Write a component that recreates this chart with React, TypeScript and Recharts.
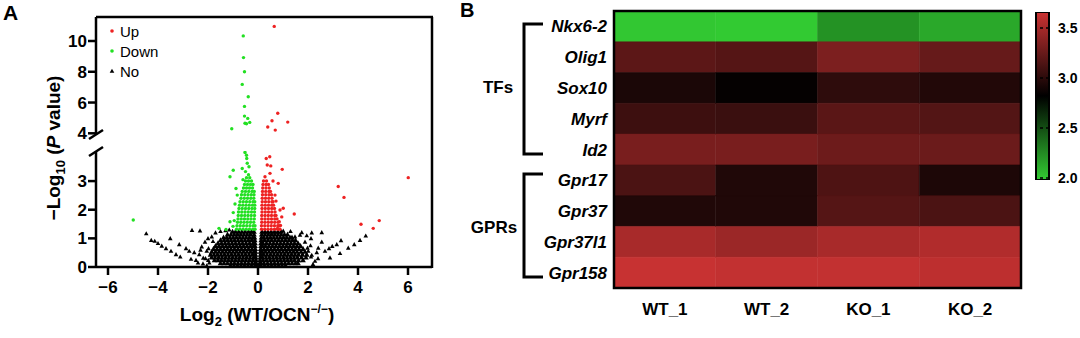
import React from 'react'
import { ScatterChart, Scatter, XAxis, YAxis, BarChart, Bar, Cell, ReferenceLine, Legend } from 'recharts'

const FONT = '"Liberation Sans", Arial, Helvetica, sans-serif'
const RED = '#ee2222'
const GREEN = '#22e022'

// ---- panel A: volcano plot ----
const xTicks = [-6, -4, -2, 0, 2, 4, 6]
const yTicksHigh = [4, 6, 8, 10]
const yTicksLow = [0, 1, 2, 3]

// points above the axis break
const upHigh: Array<[number, number]> = [
  [0.65, 10.95], [0.79, 5.3], [0.56, 4.82], [1.19, 4.73], [0.39, 4.41], [0.69, 4.21],
]
const downHigh: Array<[number, number]> = [
  [-0.59, 10.33], [-0.58, 8.92], [-0.54, 8.0], [-0.63, 7.18], [-0.39, 6.38], [-0.54, 5.75],
  [-0.54, 5.12], [-0.41, 4.97], [-0.52, 4.65], [-0.33, 4.71], [-1.05, 4.3], [-0.46, 4.62],
]

// scattered points below the break
const upLow: Array<[number, number]> = [
  [0.33, 3.79], [0.47, 3.85], [0.37, 3.56], [0.51, 3.53], [0.97, 3.41], [0.28, 3.15], [0.48, 3.27],
  [0.81, 2.92], [0.68, 2.51], [1.01, 2.05], [1.45, 1.85], [0.88, 1.99], [0.95, 1.75], [0.85, 1.58],
  [0.6, 3.0], [0.72, 2.3], [0.9, 1.45], [0.78, 1.35], [6.01, 3.12], [3.21, 2.81], [3.44, 2.43],
  [4.12, 1.49], [4.61, 1.35], [4.85, 1.62],
]
const downLow: Array<[number, number]> = [
  [-0.52, 4.0], [-0.46, 3.9], [-0.45, 3.79], [-0.43, 3.62], [-0.63, 3.44], [-0.99, 3.38], [-0.5, 3.33],
  [-0.38, 3.22], [-1.12, 3.15], [-0.6, 3.05], [-0.36, 3.5], [-0.88, 2.74], [-0.83, 2.51], [-0.92, 2.2],
  [-0.99, 1.9], [-1.12, 1.58], [-0.95, 1.62], [-1.0, 1.42], [-1.28, 1.31], [-1.56, 1.35], [-4.99, 1.64],
]

// dense clusters, one row of x positions per y level
const upCore: Array<[number, number[]]> = [
  [1.32, [0.14, 0.27, 0.4, 0.53, 0.66, 0.79, 0.88]],
  [1.44, [0.14, 0.27, 0.4, 0.53, 0.66, 0.79, 0.84]],
  [1.56, [0.15, 0.28, 0.41, 0.54, 0.67, 0.8]],
  [1.68, [0.15, 0.28, 0.41, 0.54, 0.67, 0.76]],
  [1.8, [0.15, 0.28, 0.41, 0.54, 0.67, 0.72]],
  [1.92, [0.16, 0.29, 0.42, 0.55, 0.68]],
  [2.04, [0.16, 0.29, 0.42, 0.55, 0.66]],
  [2.16, [0.16, 0.29, 0.42, 0.55, 0.62]],
  [2.28, [0.17, 0.3, 0.43, 0.56, 0.6]],
  [2.4, [0.17, 0.3, 0.43, 0.56]],
  [2.52, [0.18, 0.31, 0.44, 0.54]],
  [2.64, [0.18, 0.31, 0.44, 0.5]],
  [2.76, [0.19, 0.32, 0.45]],
  [2.88, [0.2, 0.32, 0.42]],
  [3.0, [0.22, 0.34]],
]
const downCore: Array<[number, number[]]> = [
  [1.32, [-0.86, -0.73, -0.6, -0.47, -0.34, -0.21, -0.12]],
  [1.44, [-0.84, -0.71, -0.58, -0.45, -0.32, -0.19, -0.12]],
  [1.56, [-0.82, -0.69, -0.56, -0.43, -0.3, -0.17]],
  [1.68, [-0.8, -0.67, -0.54, -0.41, -0.28, -0.15]],
  [1.8, [-0.79, -0.66, -0.53, -0.4, -0.27, -0.14]],
  [1.92, [-0.78, -0.65, -0.52, -0.39, -0.26, -0.14]],
  [2.04, [-0.76, -0.63, -0.5, -0.37, -0.24, -0.13]],
  [2.16, [-0.74, -0.61, -0.48, -0.35, -0.22, -0.13]],
  [2.28, [-0.72, -0.59, -0.46, -0.33, -0.2, -0.13]],
  [2.4, [-0.68, -0.55, -0.42, -0.29, -0.17]],
  [2.52, [-0.66, -0.53, -0.4, -0.27, -0.16]],
  [2.64, [-0.63, -0.5, -0.37, -0.24, -0.15]],
  [2.76, [-0.58, -0.46, -0.34, -0.22]],
  [2.88, [-0.54, -0.42, -0.3, -0.2]],
  [3.0, [-0.5, -0.38, -0.26]],
  [3.12, [-0.46, -0.33]],
]
const noCore: Array<[number, number[]]> = [
  [1.24, [-1.02, -0.9, -0.77, -0.64, -0.51, -0.38, -0.26, -0.16, 0.16, 0.28, 0.4, 0.53, 0.66, 0.79, 0.92]],
  [1.14, [-1.22, -1.08, -0.95, -0.82, -0.69, -0.56, -0.43, -0.3, -0.16, 0.15, 0.28, 0.41, 0.54, 0.67, 0.8, 0.93, 1.06, 1.18]],
  [1.04, [-1.38, -1.25, -1.12, -0.99, -0.86, -0.73, -0.6, -0.47, -0.34, -0.21, -0.14, 0.14, 0.24, 0.37, 0.5, 0.63, 0.76, 0.89, 1.02, 1.15, 1.28, 1.36]],
  [0.94, [-1.5, -1.36, -1.22, -1.08, -0.94, -0.8, -0.66, -0.52, -0.38, -0.25, -0.13, 0.13, 0.26, 0.4, 0.54, 0.68, 0.82, 0.96, 1.1, 1.24, 1.38, 1.5]],
  [0.84, [-1.6, -1.46, -1.32, -1.18, -1.04, -0.9, -0.76, -0.62, -0.48, -0.34, -0.2, -0.12, 0.12, 0.2, 0.34, 0.48, 0.62, 0.76, 0.9, 1.04, 1.18, 1.32, 1.46, 1.6]],
  [0.74, [-1.7, -1.56, -1.42, -1.28, -1.14, -1.0, -0.86, -0.72, -0.58, -0.44, -0.3, -0.18, -0.12, 0.12, 0.18, 0.3, 0.44, 0.58, 0.72, 0.86, 1.0, 1.14, 1.28, 1.42, 1.56, 1.7]],
  [0.64, [-1.78, -1.64, -1.5, -1.36, -1.22, -1.08, -0.94, -0.8, -0.66, -0.52, -0.38, -0.24, -0.11, 0.11, 0.24, 0.38, 0.52, 0.66, 0.8, 0.94, 1.08, 1.22, 1.36, 1.5, 1.64, 1.8]],
  [0.54, [-1.85, -1.7, -1.56, -1.42, -1.28, -1.14, -1.0, -0.86, -0.72, -0.58, -0.44, -0.3, -0.17, -0.1, 0.1, 0.17, 0.3, 0.44, 0.58, 0.72, 0.86, 1.0, 1.14, 1.28, 1.42, 1.56, 1.72, 1.88]],
  [0.44, [-1.9, -1.76, -1.62, -1.48, -1.34, -1.2, -1.06, -0.92, -0.78, -0.64, -0.5, -0.36, -0.22, -0.1, 0.1, 0.22, 0.36, 0.5, 0.64, 0.78, 0.92, 1.06, 1.2, 1.34, 1.48, 1.62, 1.78, 1.95]],
  [0.34, [-1.86, -1.72, -1.58, -1.44, -1.3, -1.16, -1.02, -0.88, -0.74, -0.6, -0.46, -0.32, -0.18, -0.09, 0.09, 0.18, 0.32, 0.46, 0.6, 0.74, 0.88, 1.02, 1.16, 1.3, 1.44, 1.58, 1.74, 1.92]],
  [0.24, [-1.74, -1.6, -1.46, -1.32, -1.18, -1.04, -0.9, -0.76, -0.62, -0.48, -0.34, -0.2, -0.08, 0.08, 0.2, 0.34, 0.48, 0.62, 0.76, 0.9, 1.04, 1.18, 1.32, 1.46, 1.62, 1.8]],
  [0.14, [-1.5, -1.36, -1.22, -1.08, -0.94, -0.8, -0.66, -0.52, -0.38, -0.24, -0.12, -0.07, 0.07, 0.12, 0.24, 0.38, 0.52, 0.66, 0.8, 0.94, 1.08, 1.22, 1.36, 1.5, 1.6]],
  [0.05, [-1.1, -0.96, -0.82, -0.68, -0.54, -0.4, -0.26, -0.12, -0.06, 0.06, 0.12, 0.26, 0.4, 0.54, 0.68, 0.82, 0.96, 1.1]],
]
const noScatter: Array<[number, number]> = [
  [-4.47, 1.17], [-4.27, 0.94], [-4.13, 0.91], [-4.0, 0.83], [-3.85, 0.74], [-3.68, 0.65], [-3.51, 1.0],
  [-3.48, 0.56], [-3.28, 0.44], [-3.15, 0.79], [-3.11, 0.36], [-2.88, 0.65], [-2.75, 0.56], [-2.68, 0.28],
  [-2.64, 1.29], [-2.55, 0.51], [-2.48, 0.24], [-2.35, 0.44], [-2.32, 1.27], [-2.25, 0.71], [-2.19, 0.32],
  [-2.12, 0.88], [-2.05, 0.56], [-1.99, 0.24], [-1.85, 1.06], [-1.98, 0.65], [-2.0, 1.0], [-1.7, 1.2],
  [-1.5, 1.25], [-1.3, 1.28], [-1.15, 1.3], [-2.4, 0.15], [-2.2, 0.12], [-2.05, 0.05], [-2.3, 0.6],
  [-1.95, 0.15], [-2.1, 0.3], [-1.8, 0.9],
  [1.01, 1.26], [2.55, 1.21], [2.12, 1.0], [1.48, 1.06], [1.68, 1.12], [4.31, 1.09], [4.08, 0.94],
  [3.85, 0.79], [3.61, 0.67], [3.32, 0.93], [3.15, 0.79], [2.97, 0.73], [2.84, 0.65], [2.68, 0.56],
  [3.28, 0.48], [2.88, 0.33], [2.55, 0.88], [2.41, 0.67], [2.35, 0.51], [2.28, 0.21], [2.15, 0.42],
  [2.01, 0.56], [2.12, 0.36], [1.98, 0.67], [1.88, 0.88], [1.75, 1.21], [2.15, 1.2], [1.3, 1.25],
  [2.2, 0.1], [2.4, 0.3], [2.1, 0.75], [1.95, 1.1],
]

const legendItems = [
  { name: 'Up', color: RED, kind: 'dot' },
  { name: 'Down', color: GREEN, kind: 'dot' },
  { name: 'No', color: '#000', kind: 'tri' },
]

// ---- panel B: heatmap ----
const genes = ['Nkx6-2', 'Olig1', 'Sox10', 'Myrf', 'Id2', 'Gpr17', 'Gpr37', 'Gpr37l1', 'Gpr158']
const samples = ['WT_1', 'WT_2', 'KO_1', 'KO_2']
const expression = [
  [2.0, 1.99, 2.22, 2.13],
  [3.2, 3.17, 3.33, 3.24],
  [2.93, 2.84, 3.01, 2.96],
  [3.07, 3.06, 3.19, 3.16],
  [3.32, 3.32, 3.27, 3.26],
  [3.13, 2.95, 3.14, 2.94],
  [2.95, 2.95, 3.17, 3.13],
  [3.51, 3.46, 3.51, 3.55],
  [3.64, 3.62, 3.62, 3.6],
]
const scaleMin = 1.98
const scaleMax = 3.66
const scaleTicks = [2.0, 2.5, 3.0, 3.5]

const pairs = (list: Array<[number, number]>) => list.map(([x, y]) => ({ x, y }))
const rows = (list: Array<[number, number[]]>) => list.flatMap(([y, xs]) => xs.map((x) => ({ x, y })))

function heatColor(v: number) {
  const mid = (scaleMin + scaleMax) / 2
  if (v >= mid) {
    const t = Math.min(1, (v - mid) / (scaleMax - mid))
    return `rgb(${Math.round(204 * t)},${Math.round(51 * t)},${Math.round(51 * t)})`
  }
  const t = Math.min(1, (mid - v) / (mid - scaleMin))
  return `rgb(${Math.round(51 * t)},${Math.round(204 * t)},${Math.round(51 * t)})`
}

const dotShape = (color: string) => (p: any) => <circle cx={p.cx} cy={p.cy} r={1.7} fill={color} />
const triShape = (s: number) => (p: any) => (
  <polygon points={`${p.cx},${p.cy - s} ${p.cx + s},${p.cy + s * 0.8} ${p.cx - s},${p.cy + s * 0.8}`} fill="#000" />
)

const axisTick = { fontSize: 17, fontWeight: 700, fill: '#000', fontFamily: FONT }
const minus = (v: number) => (v < 0 ? `\u2212${-v}` : `${v}`)

function VolcanoLegend() {
  return (
    <div style={{ fontFamily: FONT, fontSize: 15, color: '#000' }}>
      {legendItems.map((it) => (
        <div key={it.name} style={{ display: 'flex', alignItems: 'center', height: 20 }}>
          <svg width={12} height={12}>
            {it.kind === 'dot' ? (
              <circle cx={6} cy={6} r={1.8} fill={it.color} />
            ) : (
              <polygon points="6,3.7 8.3,7.8 3.7,7.8" fill={it.color} />
            )}
          </svg>
          <span style={{ marginLeft: 2 }}>{it.name}</span>
        </div>
      ))}
    </div>
  )
}

export default function App() {
  const heatData = genes.map((g) => {
    const row: Record<string, any> = { gene: g }
    samples.forEach((s) => (row[s] = 1))
    return row
  })

  return (
    <div style={{ position: 'absolute', left: 0, top: 0, width: 1080, height: 338, background: '#fff' }}>
      {/* upper part of the broken y axis */}
      <div style={{ position: 'absolute', left: 0, top: 0 }}>
        <ScatterChart width={440} height={150} margin={{ top: 17, right: 8, bottom: 15, left: 0 }}>
          <XAxis type="number" dataKey="x" domain={[-6.48, 6.96]} hide allowDataOverflow />
          <YAxis
            type="number"
            dataKey="y"
            domain={[3.89, 11.56]}
            ticks={yTicksHigh}
            interval={0}
            width={96}
            tickSize={8}
            tickMargin={1}
            stroke="#000"
            axisLine={{ stroke: '#000', strokeWidth: 2.5 }}
            tickLine={{ stroke: '#000', strokeWidth: 2.5 }}
            tick={axisTick}
            allowDataOverflow
          />
          <Scatter data={pairs(downHigh)} shape={dotShape(GREEN)} isAnimationActive={false} />
          <Scatter data={pairs(upHigh)} shape={dotShape(RED)} isAnimationActive={false} />
          <Legend
            layout="horizontal"
            verticalAlign="middle"
            align="center"
            wrapperStyle={{ left: 106, top: 21, width: 80 }}
            content={() => <VolcanoLegend />}
          />
        </ScatterChart>
      </div>

      {/* lower part of the broken y axis */}
      <div style={{ position: 'absolute', left: 0, top: 140 }}>
        <ScatterChart width={440} height={198} margin={{ top: 11, right: 8, bottom: 41, left: 0 }}>
          <XAxis
            type="number"
            dataKey="x"
            domain={[-6.48, 6.96]}
            ticks={xTicks}
            interval={0}
            tickFormatter={minus}
            height={30}
            tickSize={8}
            tickMargin={6}
            stroke="#000"
            axisLine={{ stroke: '#000', strokeWidth: 2.5 }}
            tickLine={{ stroke: '#000', strokeWidth: 2.5 }}
            tick={axisTick}
            allowDataOverflow
          />
          <YAxis
            type="number"
            dataKey="y"
            domain={[0, 4.05]}
            ticks={yTicksLow}
            interval={0}
            width={96}
            tickSize={8}
            tickMargin={1}
            stroke="#000"
            axisLine={{ stroke: '#000', strokeWidth: 2.5 }}
            tickLine={{ stroke: '#000', strokeWidth: 2.5 }}
            tick={axisTick}
            allowDataOverflow
          />
          <Scatter data={rows(noCore)} shape={triShape(2.8)} isAnimationActive={false} />
          <Scatter data={pairs(noScatter)} shape={triShape(2.3)} isAnimationActive={false} />
          <Scatter data={[...rows(downCore), ...pairs(downLow)]} shape={dotShape(GREEN)} isAnimationActive={false} />
          <Scatter data={[...rows(upCore), ...pairs(upLow)]} shape={dotShape(RED)} isAnimationActive={false} />
        </ScatterChart>
      </div>

      {/* heatmap */}
      <div style={{ position: 'absolute', left: 440, top: 0 }}>
        <BarChart
          width={590}
          height={338}
          data={heatData}
          layout="vertical"
          barCategoryGap={0}
          margin={{ top: 11, right: 9, bottom: 20, left: 0 }}
        >
          <XAxis
            type="number"
            domain={[0, 4]}
            ticks={[0.5, 1.5, 2.5, 3.5]}
            interval={0}
            tickFormatter={(v: number) => samples[Math.floor(v)]}
            axisLine={false}
            tickLine={false}
            tickSize={0}
            tickMargin={15}
            height={30}
            tick={{ fontSize: 17, fontWeight: 700, fill: '#000', fontFamily: FONT }}
          />
          <YAxis
            type="category"
            dataKey="gene"
            width={174}
            interval={0}
            axisLine={false}
            tickLine={false}
            tickSize={0}
            tickMargin={7}
            tick={{ fontSize: 17, fontWeight: 700, fontStyle: 'italic', fill: '#000', fontFamily: FONT }}
          />
          {samples.map((s, j) => (
            <Bar key={s} dataKey={s} stackId="h" isAnimationActive={false}>
              {genes.map((g, i) => (
                <Cell key={g} fill={heatColor(expression[i][j])} stroke={heatColor(expression[i][j])} strokeWidth={0.5} />
              ))}
            </Bar>
          ))}
        </BarChart>
      </div>

      {/* colour scale */}
      <div style={{ position: 'absolute', left: 1020, top: 0 }}>
        <BarChart
          width={60}
          height={200}
          data={[{ name: 'scale', range: [scaleMin, scaleMax] }]}
          barCategoryGap={0}
          margin={{ top: 12, right: 0, bottom: 20, left: 16 }}
        >
          <defs>
            <linearGradient id="heatScale" x1="0" y1="0" x2="0" y2="1">
              <stop offset="0%" stopColor="#cc3333" />
              <stop offset="50%" stopColor="#000000" />
              <stop offset="100%" stopColor="#33cc33" />
            </linearGradient>
          </defs>
          <XAxis dataKey="name" type="category" hide />
          <YAxis
            orientation="right"
            type="number"
            domain={[scaleMin, scaleMax]}
            ticks={scaleTicks}
            interval={0}
            tickFormatter={(v: number) => v.toFixed(1)}
            axisLine={false}
            tickLine={false}
            tickSize={6}
            tickMargin={3}
            width={31}
            tick={{ fontSize: 14, fontWeight: 700, fill: '#000', fontFamily: FONT, textAnchor: 'start' }}
            allowDataOverflow
          />
          <Bar dataKey="range" fill="url(#heatScale)" stroke="#000" strokeWidth={2} isAnimationActive={false} />
          {scaleTicks.map((t) => (
            <ReferenceLine key={t} y={t} stroke="#000" strokeWidth={1.5} strokeDasharray="3 3" />
          ))}
        </BarChart>
      </div>

      {/* titles, frame, axis break and brackets */}
      <svg
        width={1080}
        height={338}
        style={{ position: 'absolute', left: 0, top: 0, pointerEvents: 'none', fontFamily: FONT }}
      >
        <text x={3} y={20} fontSize={21} fontWeight={700}>A</text>
        <text x={460} y={17} fontSize={20} fontWeight={700}>B</text>

        <line x1={96} y1={17} x2={433} y2={17} stroke="#000" strokeWidth={2.5} />
        <line x1={432} y1={17} x2={432} y2={268} stroke="#000" strokeWidth={2.5} />
        <line x1={89} y1={139} x2={103} y2={130} stroke="#000" strokeWidth={2.5} />
        <line x1={89} y1={156} x2={103} y2={147} stroke="#000" strokeWidth={2.5} />

        <text transform="translate(60,148) rotate(-90)" textAnchor="middle" fontSize={19} fontWeight={700}>
          {'\u2212Log'}
          <tspan fontSize={13} dy={5}>10</tspan>
          <tspan dy={-5}> (</tspan>
          <tspan fontStyle="italic">P</tspan>
          <tspan> value)</tspan>
        </text>
        <text x={257} y={321} textAnchor="middle" fontSize={19} fontWeight={700}>
          Log
          <tspan fontSize={13} dy={5}>2</tspan>
          <tspan dy={-5}> (WT/OCN</tspan>
          <tspan fontSize={12} dy={-8}>{'\u2212/\u2212'}</tspan>
          <tspan dy={8}>)</tspan>
        </text>

        <rect x={614} y={11} width={407} height={277} fill="none" stroke="#000" strokeWidth={2.5} />
        <path d="M543 24 H524 V154 H543" fill="none" stroke="#000" strokeWidth={3} />
        <path d="M543 174 H524 V277 H543" fill="none" stroke="#000" strokeWidth={3} />
        <text x={498} y={93} textAnchor="middle" fontSize={17} fontWeight={700}>TFs</text>
        <text x={494} y={233} textAnchor="middle" fontSize={17} fontWeight={700}>GPRs</text>
      </svg>
    </div>
  )
}
